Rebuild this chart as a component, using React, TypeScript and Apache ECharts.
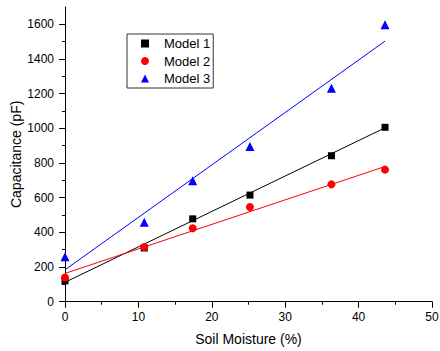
import React, { useEffect, useRef } from "react";
import * as echarts from "echarts";

const moisture = [0, 10.8, 17.4, 25.2, 36.3, 43.6];
const model1 = [120, 310, 478, 615, 842, 1006];
const model2 = [140, 315, 424, 546, 677, 762];
const model3 = [260, 458, 698, 896, 1232, 1598];
const fitX = [0, 43.6];
const fit1 = [112, 1003];
const fit2 = [163, 780];
const fit3 = [184, 1503];
const yTicks = [0, 200, 400, 600, 800, 1000, 1200, 1400, 1600];
const xTicks = [0, 10, 20, 30, 40, 50];

const FONT = "'Liberation Sans', Arial, sans-serif";

const pairs = (xs: number[], ys: number[]) => xs.map((x, i) => [x, ys[i]]);

export default function App() {
  const ref = useRef<HTMLDivElement>(null);
  useEffect(() => {
    if (!ref.current) return;
    const chart = echarts.init(ref.current, undefined, { renderer: "svg" });
    const axisCommon = {
      axisLine: { show: true, lineStyle: { color: "#000", width: 1 } },
      axisTick: { show: true, inside: false, length: 6, lineStyle: { color: "#000" } },
      minorTick: { show: true, splitNumber: 2, length: 3, lineStyle: { color: "#000" } },
      splitLine: { show: false },
      axisLabel: { color: "#000", fontSize: 12, fontFamily: FONT, formatter: (v: number) => String(v) },
      nameTextStyle: { color: "#000", fontSize: 14, fontFamily: FONT },
      nameLocation: "middle" as const,
      nameMoveOverlap: false,
    };
    chart.setOption({
      animation: false,
      backgroundColor: "#fff",
      grid: { left: 65, right: 8, top: 7, bottom: 49.3, containLabel: false, outerBoundsMode: "none" },
      xAxis: {
        type: "value",
        min: 0,
        max: 50,
        interval: 10,
        name: "Soil Moisture (%)",
        nameGap: 30,
        ...axisCommon,
        axisTick: { ...axisCommon.axisTick, customValues: xTicks },
        axisLabel: { ...axisCommon.axisLabel, margin: 9, customValues: xTicks },
      },
      yAxis: {
        type: "value",
        min: 0,
        max: 1700,
        interval: 200,
        name: "Capacitance (pF)",
        nameGap: 42,
        ...axisCommon,
        axisTick: { ...axisCommon.axisTick, customValues: yTicks },
        axisLabel: { ...axisCommon.axisLabel, margin: 11, customValues: yTicks },
      },
      legend: {
        data: [
          { name: "Model 1", icon: "rect" },
          { name: "Model 2", icon: "circle" },
          { name: "Model 3", icon: "triangle" },
        ],
        orient: "vertical",
        left: 127,
        top: 34,
        padding: [3, 3, 3, 14],
        itemWidth: 8,
        itemHeight: 8,
        itemGap: 4.5,
        borderColor: "#333",
        borderWidth: 1,
        borderRadius: 0,
        backgroundColor: "#fff",
        textStyle: { color: "#000", fontSize: 13, fontFamily: FONT, padding: [0, 0, 0, 10] },
      },
      series: [
        {
          type: "line",
          name: "fit1",
          data: pairs(fitX, fit1),
          showSymbol: false,
          symbol: "none",
          lineStyle: { color: "#000", width: 1 },
          z: 1,
          silent: true,
        },
        {
          type: "line",
          name: "fit2",
          data: pairs(fitX, fit2),
          showSymbol: false,
          symbol: "none",
          lineStyle: { color: "#ff0000", width: 1 },
          z: 1,
          silent: true,
        },
        {
          type: "line",
          name: "fit3",
          data: pairs(fitX, fit3),
          showSymbol: false,
          symbol: "none",
          lineStyle: { color: "#0000ff", width: 1 },
          z: 1,
          silent: true,
        },
        {
          type: "scatter",
          name: "Model 1",
          data: pairs(moisture, model1),
          symbol: "rect",
          symbolSize: 7,
          itemStyle: { color: "#000", opacity: 1 },
          z: 3,
        },
        {
          type: "scatter",
          name: "Model 2",
          data: pairs(moisture, model2),
          symbol: "circle",
          symbolSize: 8,
          itemStyle: { color: "#ff0000", opacity: 1 },
          z: 3,
        },
        {
          type: "scatter",
          name: "Model 3",
          data: pairs(moisture, model3),
          symbol: "triangle",
          symbolSize: 9,
          itemStyle: { color: "#0000ff", opacity: 1 },
          z: 3,
        },
      ],
    });
    return () => chart.dispose();
  }, []);
  return <div ref={ref} style={{ width: 440, height: 351, position: "absolute", left: 0, top: 0 }} />;
}
